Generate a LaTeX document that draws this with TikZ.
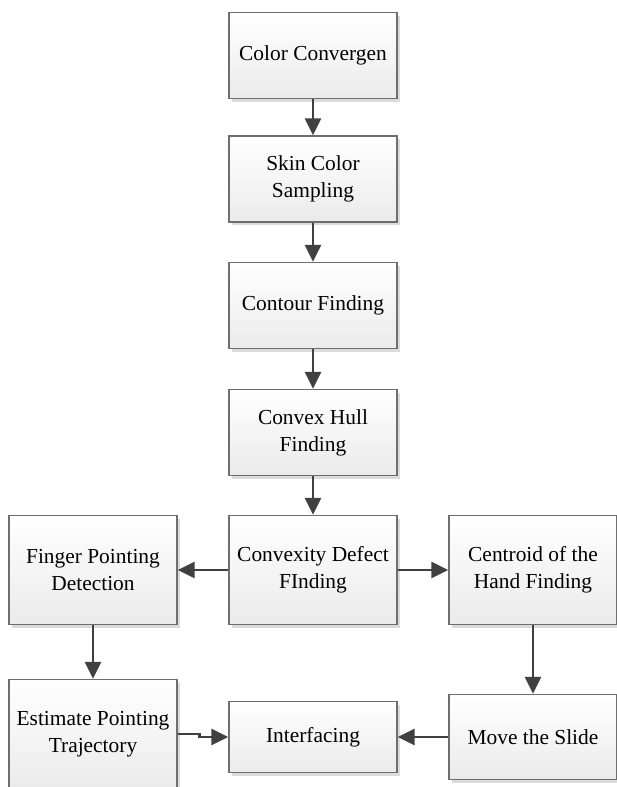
\documentclass[tikz,border=0pt]{standalone}
\usepackage{fontspec}
\setmainfont{Liberation Serif}
\usetikzlibrary{arrows.meta,shadows}
\definecolor{boxline}{HTML}{6E6E6E}
\definecolor{arrline}{HTML}{404040}
\tikzset{
	stage/.style={draw=boxline, line width=0.7pt, top color=white, bottom color=black!8,
		drop shadow={shadow xshift=1.6pt, shadow yshift=-1.6pt, fill=black!14, opacity=1},
		minimum width=84pt, inner sep=0pt, align=center,
		font=\fontsize{10.7}{13.5}\selectfont},
	arr/.style={draw=arrline, line width=1.3pt, -{Triangle[length=8.5pt, width=8pt]}}
}

\begin{document}
\begin{tikzpicture}[x=0.5pt, y=-0.5pt]
		%%%%% START %%%%%
		\useasboundingbox (0, 0) rectangle (616, 787);
		
		% main column
		\node[stage, minimum height=43pt] (cc) at (313, 55.5) {Color Convergen};
		\node[stage, minimum height=43pt] (skin) at (313, 179) {Skin Color\\Sampling};
		\node[stage, minimum height=43pt] (cont) at (313, 305.5) {Contour Finding};
		\node[stage, minimum height=43pt] (hull) at (313, 432.5) {Convex Hull\\Finding};
		
		% middle row
		\node[stage, minimum height=54.5pt] (defect) at (313, 570) {Convexity Defect\\FInding};
		\node[stage, minimum height=54.5pt] (finger) at (93, 570) {Finger Pointing\\Detection};
		\node[stage, minimum height=54.5pt] (centroid) at (533, 570) {Centroid of the\\Hand Finding};
		
		% bottom row
		\node[stage, minimum height=54.5pt] (est) at (93, 734) {Estimate Pointing\\Trajectory};
		\node[stage, minimum height=35.5pt] (intf) at (313, 737) {Interfacing};
		\node[stage, minimum height=42.5pt] (move) at (533, 737) {Move the Slide};
		
		\draw[arr] (cc) -- (skin);
		\draw[arr] (skin) -- (cont);
		\draw[arr] (cont) -- (hull);
		\draw[arr] (hull) -- (defect);
		\draw[arr] (defect) -- (finger);
		\draw[arr] (defect) -- (centroid);
		\draw[arr] (finger) -- (est);
		\draw[arr] (centroid) -- (move);
		\draw[arr] (move) -- (intf);
		\draw[arr] (est.east) -- ++(22, 0) |- (intf.west);
		%%%%% END %%%%%
\end{tikzpicture}
\end{document}
